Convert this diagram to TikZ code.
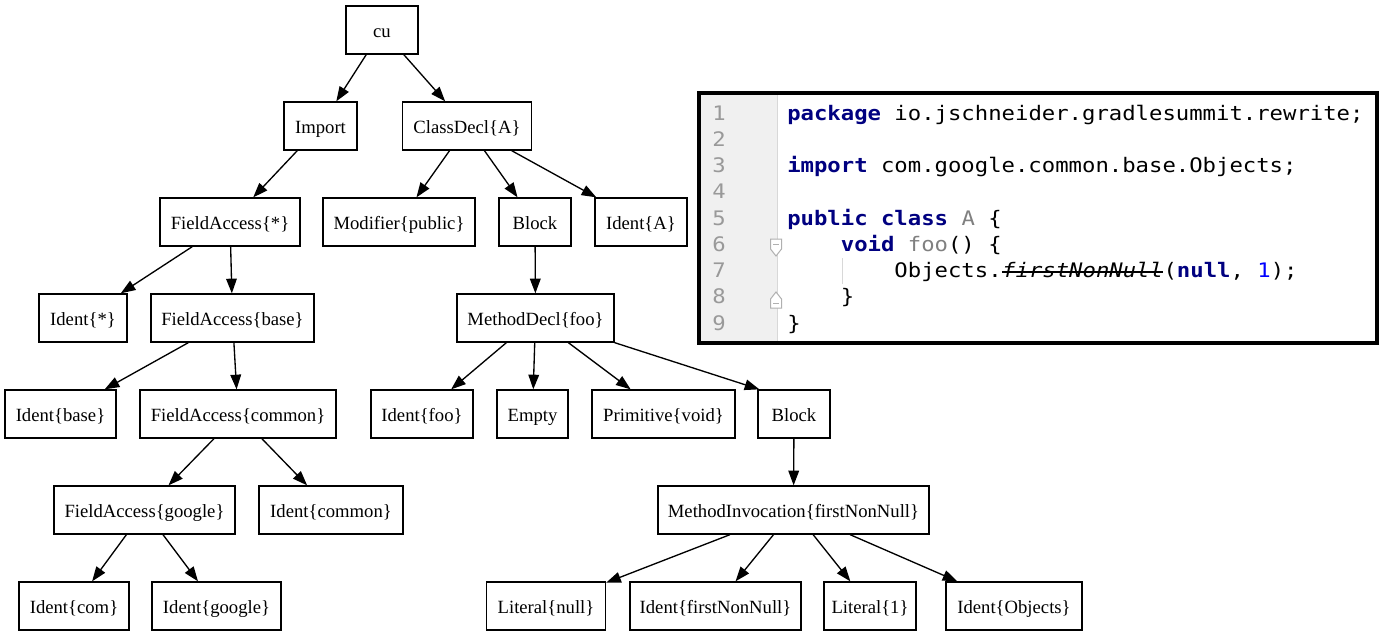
\documentclass[tikz,border=0pt]{standalone}
\usepackage{fontspec}
\setmainfont{Liberation Serif}
\newfontfamily\codefont[FakeStretch=1.113]{DejaVu Sans Mono}
\usetikzlibrary{arrows.meta}
\definecolor{kw}{HTML}{000080}
\definecolor{numgray}{HTML}{999999}
\definecolor{unused}{HTML}{808080}
\definecolor{numblue}{HTML}{0000FF}
\definecolor{gutter}{HTML}{F0F0F0}
\definecolor{sepgray}{HTML}{D8D8D8}
\definecolor{foldgray}{HTML}{B0B0B0}
\begin{document}
\begin{tikzpicture}[x=0.75pt,y=-0.75pt,
  ast/.style={draw, line width=1pt, minimum height=36pt, inner xsep=2pt, inner ysep=0pt,
    text height=13pt, text depth=1.4pt, font=\fontsize{14}{16}\selectfont},
  bw/.style={minimum width=#1*0.75pt},
  edge/.style={line width=1pt, -{Triangle[length=11pt,width=8pt]}},
  code/.style={inner sep=0pt, anchor=base west, font=\codefont\fontsize{15}{18}\selectfont},
  lnum/.style={inner sep=0pt, anchor=base, text=numgray, font=\codefont\fontsize{15}{18}\selectfont},
  fold/.style={draw=foldgray, fill=white, line width=0.75pt}]
\useasboundingbox (0,0) rectangle (1380,635);

% ---- tree nodes ----
\node[ast,bw=72] (cu) at (382,30) {cu};
\node[ast,bw=73] (imp) at (320.5,126) {Import};
\node[ast,bw=129] (cls) at (467,126) {ClassDecl\{A\}};
\node[ast,bw=140] (fa1) at (230,222) {FieldAccess\{*\}};
\node[ast,bw=152] (mod) at (399,222) {Modifier\{public\}};
\node[ast,bw=72] (blk1) at (535,222) {Block};
\node[ast,bw=92] (idA) at (641,222) {Ident\{A\}};
\node[ast,bw=88] (id1) at (83,318) {Ident\{*\}};
\node[ast,bw=163] (fa2) at (232.5,318) {FieldAccess\{base\}};
\node[ast,bw=157] (md) at (535.5,318) {MethodDecl\{foo\}};
\node[ast,bw=111] (idb) at (60.5,414) {Ident\{base\}};
\node[ast,bw=196] (fa3) at (238,414) {FieldAccess\{common\}};
\node[ast,bw=102] (idfoo) at (422,414) {Ident\{foo\}};
\node[ast,bw=71] (empty) at (532.5,414) {Empty};
\node[ast,bw=143] (prim) at (663.5,414) {Primitive\{void\}};
\node[ast,bw=72] (blk2) at (794,414) {Block};
\node[ast,bw=181] (fa4) at (144.5,510) {FieldAccess\{google\}};
\node[ast,bw=144] (idcommon) at (331,510) {Ident\{common\}};
\node[ast,bw=271] (mi) at (793.5,510) {MethodInvocation\{firstNonNull\}};
\node[ast,bw=110] (idcom) at (74,606) {Ident\{com\}};
\node[ast,bw=129] (idgoogle) at (216.5,606) {Ident\{google\}};
\node[ast,bw=119] (litnull) at (546,606) {Literal\{null\}};
\node[ast,bw=171] (idfnn) at (715.5,606) {Ident\{firstNonNull\}};
\node[ast,bw=92] (lit1) at (870,606) {Literal\{1\}};
\node[ast,bw=136] (idobj) at (1014,606) {Ident\{Objects\}};

% ---- edges ----
\draw[edge] (cu) -- (imp);
\draw[edge] (cu) -- (cls);
\draw[edge] (imp) -- (fa1);
\draw[edge] (cls) -- (mod);
\draw[edge] (cls) -- (blk1);
\draw[edge] (cls) -- (idA);
\draw[edge] (fa1) -- (id1);
\draw[edge] (fa1) -- (fa2);
\draw[edge] (blk1) -- (md);
\draw[edge] (fa2) -- (idb);
\draw[edge] (fa2) -- (fa3);
\draw[edge] (md) -- (idfoo);
\draw[edge] (md) -- (empty);
\draw[edge] (md) -- (prim);
\draw[edge] (md.south east) -- ([xshift=1.5pt]blk2.north west);
\draw[edge] (fa3) -- (fa4);
\draw[edge] (fa3) -- (idcommon);
\draw[edge] (blk2) -- (mi);
\draw[edge] (fa4) -- (idcom);
\draw[edge] (fa4) -- (idgoogle);
\draw[edge] (mi) -- (litnull);
\draw[edge] (mi) -- (idfnn);
\draw[edge] (mi) -- (lit1);
\draw[edge] (mi) -- (idobj);

% ---- code panel ----
\fill[white] (699,93) rectangle (1377,343);
\fill[gutter] (700,95) rectangle (777,341);
\draw[sepgray, line width=0.75pt] (777,95) -- (777,341);
\draw[sepgray, line width=0.75pt] (842,258) -- (842,284);

\foreach \i in {1,...,9} {
  \node[lnum] (ln\i) at (719,{120+26.25*(\i-1)}) {\i};
}

\node[code] (c1) at (787,120) {{\bfseries\color{kw}package} io.jschneider.gradlesummit.rewrite;};
\node[code] (c3) at (787,172.5) {{\bfseries\color{kw}import} com.google.common.base.Objects;};
\node[code] (c5) at (787,225) {{\bfseries\color{kw}public class} {\color{unused}A} \{};
\node[code] (c6) at (840.6,251.25) {{\bfseries\color{kw}void} {\color{unused}foo}() \{};
\node[code] (c7a) at (894.2,277.5) {Objects.};
\node[code] (c7b) at (c7a.base east) {\itshape firstNonNull};
\node[code] (c7c) at (c7b.base east) {({\bfseries\color{kw}null}, {\color{numblue}1});};
\draw[line width=1pt] ([yshift=4.2pt]c7b.base west) -- ([yshift=4.2pt]c7b.base east);
\node[code] (c8) at (840.6,303.75) {\}};
\node[code] (c9) at (787,330) {\}};

% fold markers
\draw[fold] (770.5,239) -- (781.5,239) -- (781.5,249) -- (776,256) -- (770.5,249) -- cycle;
\draw[foldgray, line width=0.6pt] (773,244) -- (779,244);
\draw[fold] (770.5,308) -- (781.5,308) -- (781.5,299) -- (776,292) -- (770.5,299) -- cycle;
\draw[foldgray, line width=0.6pt] (773,303) -- (779,303);

\draw[line width=3pt] (699,93) rectangle (1377,343);
\end{tikzpicture}
\end{document}
